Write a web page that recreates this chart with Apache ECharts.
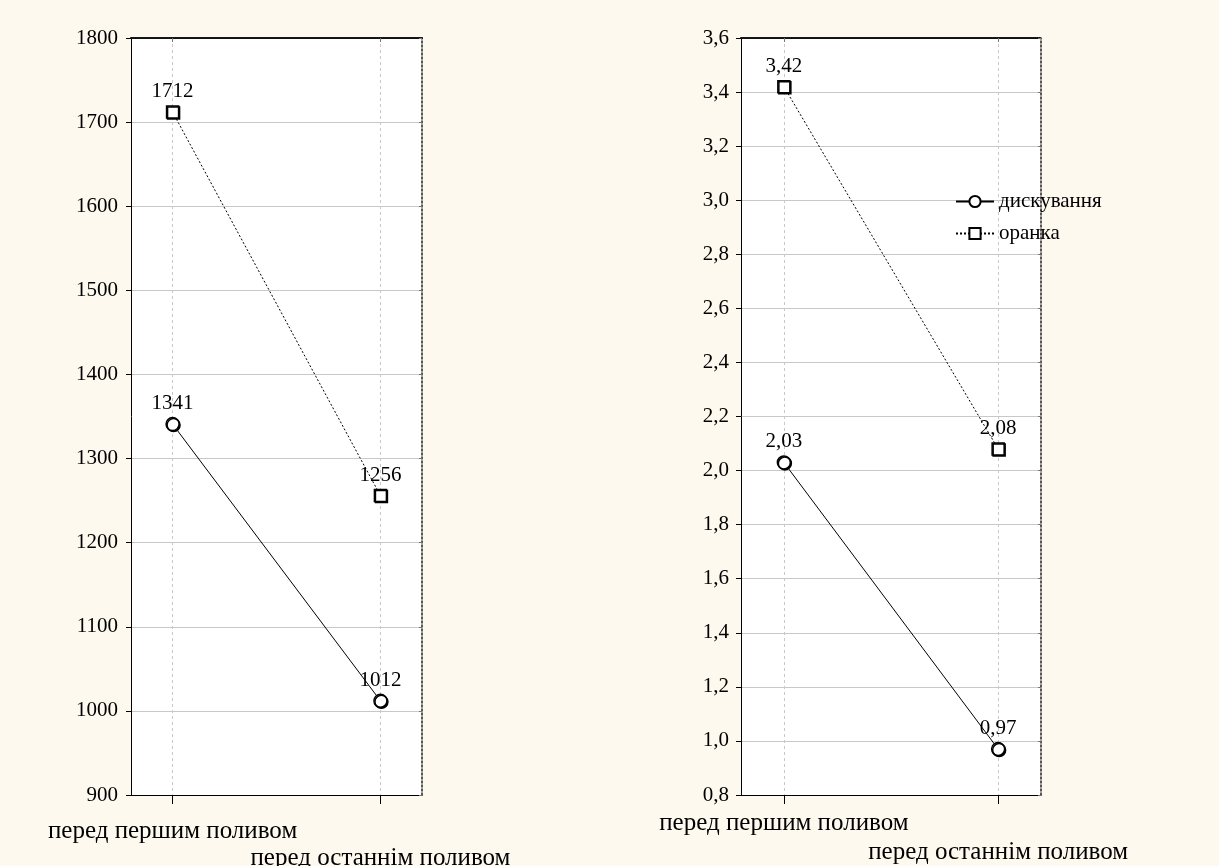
<!DOCTYPE html>
<html>
<head>
<meta charset="utf-8">
<script src="https://cdn.jsdelivr.net/npm/echarts@6/dist/echarts.min.js"></script>
<style>
html,body{margin:0;padding:0;background:#fdf9ee;}
#c{width:1219px;height:866px;}
</style>
</head>
<body>
<div id="c"></div>
<script>
// ---- data ----
const categories = ['перед першим поливом', 'перед останнім поливом'];
const seriesNames = ['дискування', 'оранка'];
// left panel
const leftDiskuvannia = [1341, 1012];
const leftOranka = [1712, 1256];
// right panel
const rightDiskuvannia = [2.03, 0.97];
const rightOranka = [3.42, 2.08];
// axis ranges
const leftY = {min: 900, max: 1800, interval: 100};
const rightY = {min: 0.8, max: 3.6, interval: 0.2};

const FONT = 'Liberation Serif';
const comma = (v, d) => v.toFixed(d).replace('.', ',');

function pts(vals) { return vals.map((v, i) => [i, v]); }

function xAxes(gi, margin, drop) {
  return [{
    gridIndex: gi, type: 'value', min: -0.2, max: 1.2,
    axisLine: {show: true, onZero: false, lineStyle: {color: '#000', width: 1}},
    axisTick: {show: true, customValues: [0, 1], length: 9, inside: false, lineStyle: {color: '#000'}},
    axisLabel: {
      customValues: [0, 1], margin: margin, color: '#000', fontFamily: FONT, fontSize: 25,
      formatter: v => (Math.round(v) === 0 ? '{a|' + categories[0] + '}' : '{b|' + categories[1] + '}'),
      rich: {
        a: {fontFamily: FONT, fontSize: 25, color: '#000'},
        b: {fontFamily: FONT, fontSize: 25, color: '#000', padding: [drop, 0, 0, 0]}
      }
    },
    splitLine: {show: true, lineStyle: {color: '#c8c8c8', type: [3, 3], width: 1}}
  }, {
    gridIndex: gi, type: 'value', min: -0.2, max: 1.2, position: 'top',
    axisLine: {show: true, onZero: false, lineStyle: {color: '#111', width: 2, type: [1, 1]}},
    axisTick: {show: true, customValues: [0, 1], inside: true, length: 4, lineStyle: {color: '#777'}},
    axisLabel: {show: false}, splitLine: {show: false}
  }];
}

function yAxes(gi, r, fmt, margin) {
  return [{
    gridIndex: gi, type: 'value', min: r.min, max: r.max, interval: r.interval,
    axisLine: {show: true, onZero: false, lineStyle: {color: '#000', width: 1}},
    axisTick: {show: true, length: 5, lineStyle: {color: '#000'}},
    axisLabel: {color: '#000', fontFamily: FONT, fontSize: 21, margin: margin, formatter: fmt},
    splitLine: {show: true, lineStyle: {color: '#c8c8c8', width: 1}}
  }, {
    gridIndex: gi, type: 'value', min: r.min, max: r.max, interval: r.interval, position: 'right',
    axisLine: {show: true, onZero: false, lineStyle: {color: '#222', width: 1.5, type: [2, 2]}},
    axisTick: {show: true, inside: true, length: 3, lineStyle: {color: '#777'}},
    axisLabel: {show: false}, splitLine: {show: false}
  }];
}

function mkSeries(name, data, xi, yi, fmt) {
  const isDisk = name === seriesNames[0];
  return {
    name: name, type: 'line', xAxisIndex: xi, yAxisIndex: yi,
    data: pts(data),
    symbol: isDisk ? 'circle' : 'rect',
    symbolSize: isDisk ? 13 : 12,
    lineStyle: {color: '#000', width: 1, type: isDisk ? 'solid' : [2, 2]},
    itemStyle: {color: '#fff', borderColor: '#000', borderWidth: 1.5,
      shadowColor: '#000', shadowOffsetX: 1, shadowOffsetY: 1, shadowBlur: 0},
    label: {show: true, position: 'top', distance: 3, color: '#000', fontFamily: FONT, fontSize: 21,
      formatter: p => fmt(p.value[1])},
    emphasis: {disabled: true},
    animation: false
  };
}

const chart = echarts.init(document.getElementById('c'));
chart.setOption({
  backgroundColor: '#fdf9ee',
  animation: false,
  grid: [
    {left: 131, top: 38, width: 291, height: 757, show: true, backgroundColor: '#fff', borderWidth: 0,
      containLabel: false, outerBoundsMode: 'none'},
    {left: 741, top: 38, width: 300, height: 757, show: true, backgroundColor: '#fff', borderWidth: 0,
      containLabel: false, outerBoundsMode: 'none'}
  ],
  xAxis: [...xAxes(0, 24, 27), ...xAxes(1, 16, 29)],
  yAxis: [...yAxes(0, leftY, v => String(v), 13), ...yAxes(1, rightY, v => comma(v, 1), 12)],
  legend: {
    data: seriesNames, orient: 'vertical', left: 950, top: 186, itemWidth: 38, itemHeight: 14, itemGap: 11,
    textStyle: {fontFamily: FONT, fontSize: 21, color: '#000'}, selectedMode: false
  },
  series: [
    mkSeries(seriesNames[0], leftDiskuvannia, 0, 0, v => String(v)),
    mkSeries(seriesNames[1], leftOranka, 0, 0, v => String(v)),
    mkSeries(seriesNames[0], rightDiskuvannia, 2, 2, v => comma(v, 2)),
    mkSeries(seriesNames[1], rightOranka, 2, 2, v => comma(v, 2))
  ]
});
</script>
</body>
</html>
